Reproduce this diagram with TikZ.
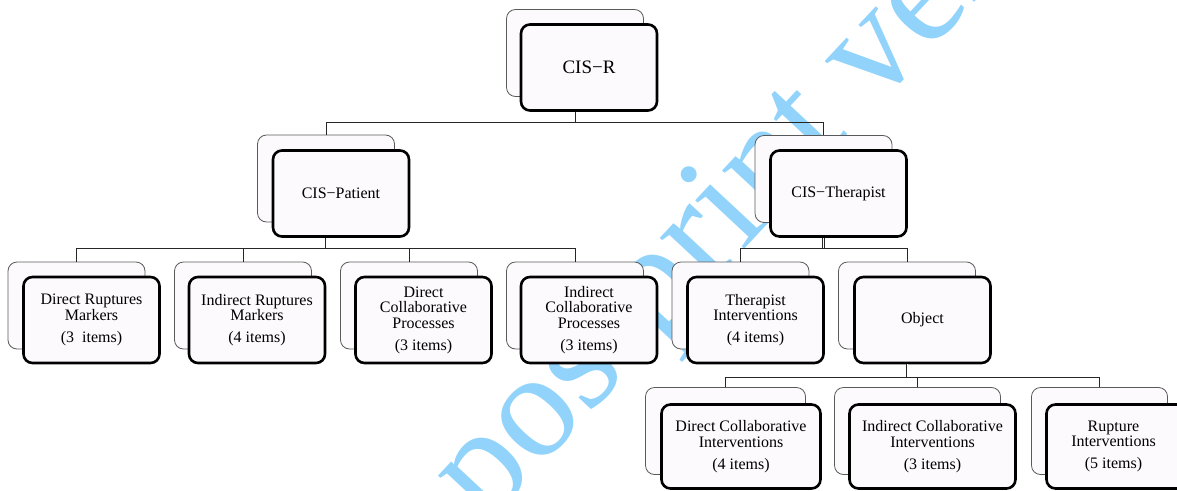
\documentclass[tikz,border=0pt]{standalone}
\usepackage{fontspec}
\setmainfont{Liberation Serif}
\definecolor{boxfill}{RGB}{253,250,253}
\definecolor{wmblue}{RGB}{145,211,250}
\definecolor{thinline}{RGB}{90,90,90}
\tikzset{
  backbox/.style={draw=thinline, line width=0.8pt, rounded corners=9pt, fill=boxfill, inner sep=0pt},
  frontbox/.style={draw=black, line width=2.6pt, rounded corners=9pt, fill=boxfill, inner sep=0pt, align=center,
    font=\fontsize{16}{15.5}\selectfont},
  lvA/.style={minimum width=137pt, minimum height=87pt},
  lvAf/.style={minimum width=136pt, minimum height=86pt},
  conn/.style={draw=black!85, line width=0.7pt},
  stem/.style={draw=black!85, line width=0.6pt, double=white, double distance=0.9pt},
  wm/.style={text=wmblue, font=\fontsize{150}{152}\selectfont, inner sep=0pt}
}
\begin{document}
\begin{tikzpicture}[x=1pt,y=-1pt]
\useasboundingbox (0,0) rectangle (1177,490);
\begin{scope}
\clip (0,0) rectangle (1177,490);
% watermark (behind the boxes)
\node[wm, rotate=47, anchor=base west] (wmark) at (486.5,525.7) {postprint version};
% level 0
\node[backbox,lvA] (rB) at (575,53) {};
\node[frontbox,lvAf,font=\fontsize{19}{19}\selectfont] (r) at (589,67.5) {CIS−R};
% level 1
\node[backbox,lvA] (pB) at (326,178.5) {};
\node[frontbox,lvAf] (p) at (341,193.5) {CIS−Patient};
\node[backbox,lvA] (tB) at (823.5,179) {};
\node[frontbox,lvAf] (t) at (838.5,193.5) {CIS−Therapist};
% level 2
\node[backbox,lvA] (drmB) at (76.5,305.5) {};
\node[frontbox,lvAf] (drm) at (91.5,320) {Direct Ruptures\\Markers\\[6.5pt](3~ items)};
\node[backbox,lvA] (irmB) at (243,305.5) {};
\node[frontbox,lvAf] (irm) at (257,320) {Indirect Ruptures\\Markers\\[6.5pt](4 items)};
\node[backbox,lvA] (dcpB) at (409,305.5) {};
\node[frontbox,lvAf] (dcp) at (423.5,320) {Direct\\Collaborative\\Processes\\[6.5pt](3 items)};
\node[backbox,lvA] (icpB) at (575,305.5) {};
\node[frontbox,lvAf] (icp) at (589,320) {Indirect\\Collaborative\\Processes\\[6.5pt](3 items)};
\node[backbox,lvA] (tiB) at (740.5,305.5) {};
\node[frontbox,lvAf] (ti) at (755.5,320) {Therapist\\Interventions\\[6.5pt](4 items)};
\node[backbox,lvA] (obB) at (907,305.5) {};
\node[frontbox,lvAf] (ob) at (922.5,320) {Object};
% level 3
\node[backbox,minimum width=160pt,minimum height=87pt] (dciB) at (725.5,431) {};
\node[frontbox,minimum width=159pt,minimum height=84pt] (dci) at (741,446.5) {Direct Collaborative\\Interventions\\[6.5pt](4 items)};
\node[backbox,minimum width=166pt,minimum height=87pt] (iciB) at (917.5,431) {};
\node[frontbox,minimum width=166pt,minimum height=84pt] (ici) at (932.5,446.5) {Indirect Collaborative\\Interventions\\[6.5pt](3 items)};
\node[backbox,minimum width=136pt,minimum height=87pt] (riB) at (1099.5,431) {};
\node[frontbox,minimum width=140pt,minimum height=84pt] (ri) at (1116.5,446.5) {\hspace*{-6pt}Rupture\\\hspace*{-6pt}Interventions\\[6.5pt]\hspace*{-6pt}(5 items)};
% connectors level 0 -> 1
\draw[conn] (rB.north |- r.south) -- +(0,11) -| (pB.north);
\draw[conn] (rB.north |- r.south) -- +(0,11) -| (tB.north);
% level 1 -> 2 (patient)
\draw[stem] (pB.north |- p.south) -- +(0,11);
\draw[conn] (pB.north |- p.south) ++(0,11) -| (drmB.north);
\draw[conn] (pB.north |- p.south) ++(0,11) -| (irmB.north);
\draw[conn] (pB.north |- p.south) ++(0,11) -| (dcpB.north);
\draw[conn] (pB.north |- p.south) ++(0,11) -| (icpB.north);
% level 1 -> 2 (therapist)
\draw[stem] (tB.north |- t.south) -- +(0,11);
\draw[conn] (tB.north |- t.south) ++(0,11) -| (tiB.north);
\draw[conn] (tB.north |- t.south) ++(0,11) -| (obB.north);
% level 2 -> 3 (object)
\draw[stem] (obB.north |- ob.south) -- +(0,13);
\draw[conn] (obB.north |- ob.south) ++(0,13) -| (dciB.north);
\draw[conn] (obB.north |- ob.south) ++(0,13) -| (iciB.north);
\draw[conn] (obB.north |- ob.south) ++(0,13) -| (riB.north);
\end{scope}
\end{tikzpicture}
\end{document}
